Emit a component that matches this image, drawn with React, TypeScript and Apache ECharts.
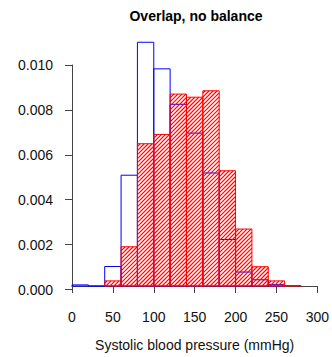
import React, { useEffect, useRef } from "react";
import * as echarts from "echarts";

// Histogram bins (left edges, width 20 mmHg)
const binLeft = [0, 20, 40, 60, 80, 100, 120, 140, 160, 180, 200, 220, 240, 260];
const binWidth = 20;
// Density of the blue group (outline only)
const blueDensity = [0.00005, 0, 0.00088, 0.0050, 0.0110, 0.0098, 0.0082, 0.0069, 0.0051, 0.0021, 0.00063, 0.00028, 0.00006, null];
// Density of the red group (hatched)
const redDensity = [null, null, 0.00023, 0.00177, 0.00642, 0.00684, 0.00866, 0.00852, 0.00881, 0.0052, 0.00257, 0.00087, 0.00023, 0.00002];
const yTicks = [0, 0.002, 0.004, 0.006, 0.008, 0.01];
const xTicks = [0, 50, 100, 150, 200, 250, 300];

const titleText = "Overlap, no balance";
const xName = "Systolic blood pressure (mmHg)";
const FONT = "'Liberation Sans', Arial, Helvetica, sans-serif";

function toData(vals: (number | null)[]) {
  const out: number[][] = [];
  vals.forEach((v, i) => {
    if (v !== null && v !== undefined) out.push([binLeft[i], binLeft[i] + binWidth, v]);
  });
  return out;
}

export default function App() {
  const ref = useRef<HTMLDivElement>(null);
  useEffect(() => {
    if (!ref.current) return;
    const chart = echarts.init(ref.current, null, { renderer: "svg" });
    const baseline = 289.5;
    const pxPerUnit = 224.5 / 0.01;
    const dataMax = 0.012;
    const hatchStep = 4;
    const makeRender = (hatch: boolean, stroke: string) => (params: any, api: any) => {
      const x0v = api.value(0);
      const x1v = api.value(1);
      const v = api.value(2);
      const p0 = api.coord([x0v, v]);
      const p1 = api.coord([x1v, 0]);
      const x0 = p0[0], y0 = p0[1], x1 = p1[0], y1 = p1[1];
      const children: any[] = [];
      if (hatch && y1 - y0 > 0.5) {
        const cStart = Math.ceil((x0 + y0) / hatchStep) * hatchStep;
        for (let c = cStart; c <= x1 + y1; c += hatchStep) {
          const xa = Math.max(x0, c - y1);
          const xb = Math.min(x1, c - y0);
          if (xb - xa <= 0) continue;
          children.push({
            type: "line",
            shape: { x1: xa, y1: c - xa, x2: xb, y2: c - xb },
            style: { stroke: "#ff0000", lineWidth: 1.2 },
            silent: true,
          });
        }
      }
      children.push({
        type: "rect",
        shape: { x: x0, y: y0, width: x1 - x0, height: y1 - y0 },
        style: { fill: "none", stroke, lineWidth: 1 },
      });
      return { type: "group", children };
    };
    chart.setOption({
      animation: false,
      textStyle: { fontFamily: FONT },
      graphic: [
        {
          type: "text",
          x: 196,
          y: 16,
          style: {
            text: titleText,
            font: `bold 14px ${FONT}`,
            fill: "#000",
            align: "center",
            verticalAlign: "middle",
          },
        },
      ],
      grid: [
        { left: 72, right: 12, top: baseline - dataMax * pxPerUnit, bottom: 357 - baseline },
        { left: 72, right: 12, top: baseline - 0.01 * pxPerUnit, bottom: 357 - baseline },
      ],
      xAxis: [
        {
          type: "value",
          gridIndex: 0,
          min: 0,
          max: 300,
          interval: 50,
          offset: 10,
          splitLine: { show: false },
          axisLine: { show: true, lineStyle: { color: "#444", width: 1 } },
          axisTick: { show: true, length: 7, lineStyle: { color: "#444" } },
          axisLabel: {
            fontSize: 14,
            color: "#111",
            margin: 14,
            fontFamily: FONT,
            formatter: (v: number) => (xTicks.includes(v) ? String(v) : ""),
          },
          name: xName,
          nameLocation: "middle",
          nameGap: 42,
          nameTextStyle: { fontSize: 14, color: "#111", fontFamily: FONT },
        },
        {
          type: "value",
          gridIndex: 1,
          min: 0,
          max: 300,
          show: false,
        },
      ],
      yAxis: [
        {
          type: "value",
          gridIndex: 0,
          min: 0,
          max: dataMax,
          show: false,
        },
        {
          type: "value",
          gridIndex: 1,
          min: 0,
          max: 0.01,
          interval: 0.002,
          offset: 10,
          splitLine: { show: false },
          axisLine: { show: true, lineStyle: { color: "#444", width: 1 } },
          axisTick: { show: true, length: 7, lineStyle: { color: "#444" } },
          axisLabel: {
            fontSize: 14,
            color: "#111",
            margin: 9,
            fontFamily: FONT,
            formatter: (v: number) => {
              const t = yTicks.find((k) => Math.abs(k - v) < 1e-9);
              return t === undefined ? "" : t.toFixed(3);
            },
          },
        },
      ],
      series: [
        {
          type: "custom",
          name: "blue",
          xAxisIndex: 0,
          yAxisIndex: 0,
          z: 2,
          renderItem: makeRender(false, "#0000ff"),
          encode: { x: [0, 1], y: 2 },
          data: toData(blueDensity),
        },
        {
          type: "custom",
          name: "red",
          xAxisIndex: 0,
          yAxisIndex: 0,
          z: 3,
          renderItem: makeRender(true, "#ff0000"),
          encode: { x: [0, 1], y: 2 },
          data: toData(redDensity),
        },
      ],
    });
    return () => chart.dispose();
  }, []);
  return (
    <div
      ref={ref}
      style={{ position: "absolute", left: 0, top: 0, width: 332, height: 357 }}
    />
  );
}
